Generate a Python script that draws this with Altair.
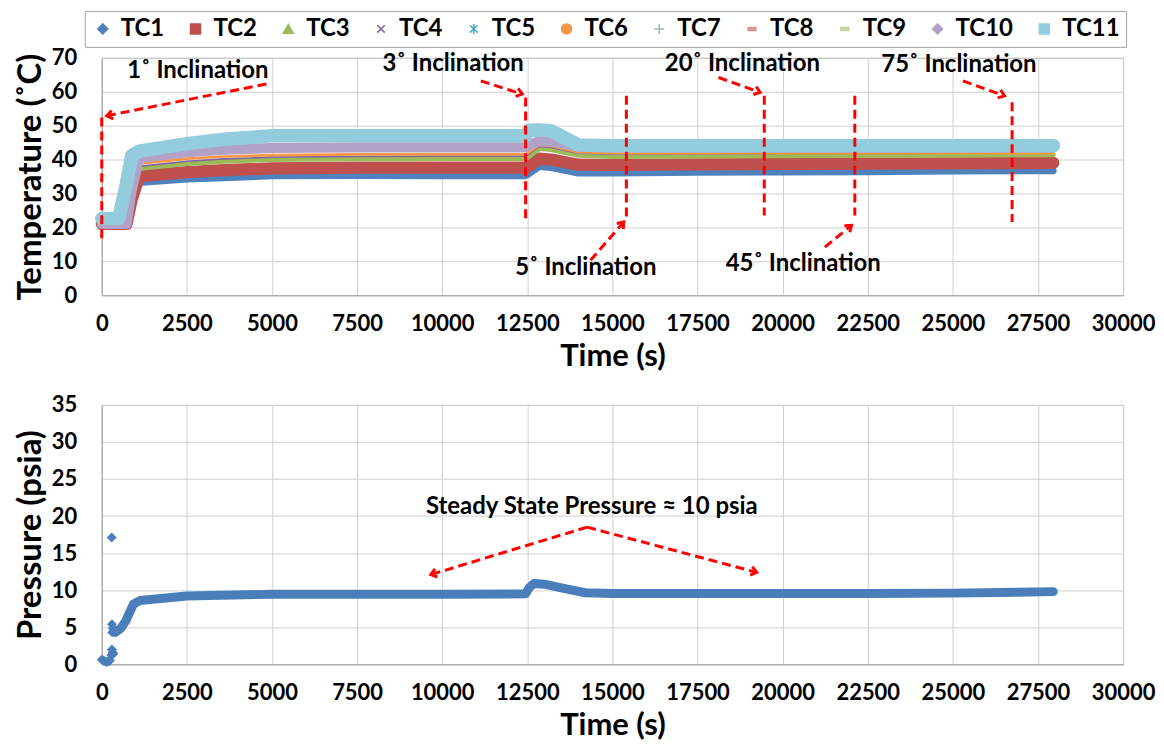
import math
import altair as alt
import pandas as pd

FONT = "Lato"

# ---------------- data: temperatures (deg C) vs time (s) ----------------
T = [0, 500, 730, 880, 1100, 2500, 3600, 5000, 7500, 10000, 12450, 12550,
     12850, 13200, 14000, 15000, 17500, 20000, 22500, 25000, 27950]
TC1 = [21.0, 21.0, 21.0, 27.0, 33.2, 34.2, 34.6, 35.2, 35.3, 35.2, 35.2, 35.8,
       37.9, 37.6, 36.0, 36.0, 36.2, 36.3, 36.4, 36.6, 36.7]
TC2 = [21.0, 21.0, 21.0, 28.3, 35.1, 36.3, 36.9, 37.4, 37.6, 37.6, 37.6, 38.2,
       40.3, 40.0, 38.5, 38.4, 38.6, 38.7, 38.8, 38.9, 39.0]
TC3 = [21.0, 21.0, 21.0, 29.5, 37.3, 38.8, 39.5, 40.0, 40.2, 40.3, 40.3, 40.9,
       43.2, 42.9, 41.2, 40.9, 41.0, 41.1, 41.2, 41.3, 41.4]
TC4 = [21.0, 21.0, 21.0, 30.0, 38.0, 39.5, 40.2, 40.7, 40.9, 41.0, 41.0, 41.6,
       43.9, 43.6, 41.9, 41.6, 41.7, 41.8, 41.8, 41.9, 42.0]
TC5 = [21.0, 21.0, 21.0, 30.8, 40.2, 41.9, 42.6, 43.1, 43.3, 43.3, 43.3, 43.9,
       45.2, 45.0, 43.5, 43.3, 43.3, 43.3, 43.3, 43.3, 43.3]
TC6 = [21.0, 21.0, 21.0, 30.5, 38.8, 40.3, 40.9, 41.3, 41.5, 41.5, 41.5, 42.1,
       44.3, 44.0, 42.2, 41.9, 41.9, 41.9, 41.9, 41.9, 41.9]
TC7 = [21.0, 21.0, 21.0, 31.2, 40.8, 42.5, 43.2, 43.7, 43.9, 43.9, 43.9, 44.5,
       45.8, 45.6, 44.1, 43.9, 43.9, 43.9, 43.9, 43.9, 43.9]
TC8 = [21.0, 21.0, 21.0, 31.0, 40.4, 42.1, 42.8, 43.3, 43.5, 43.5, 43.5, 44.1,
       45.4, 45.2, 43.7, 43.5, 43.5, 43.5, 43.5, 43.5, 43.5]
TC9 = [21.0, 21.0, 21.0, 31.1, 40.6, 42.3, 43.0, 43.5, 43.7, 43.7, 43.7, 44.3,
       45.6, 45.4, 43.9, 43.7, 43.7, 43.7, 43.7, 43.7, 43.7]
TC10 = [21.0, 21.0, 21.0, 31.0, 40.5, 42.2, 42.9, 43.4, 43.6, 43.6, 43.6, 44.2,
        45.5, 45.3, 43.8, 43.6, 43.6, 43.6, 43.6, 43.6, 43.6]
TC11 = [22.6, 22.6, 33.1, 41.2, 42.5, 44.7, 46.0, 47.0, 47.0, 47.0, 47.0, 48.6,
        48.7, 48.5, 44.3, 44.1, 44.1, 44.1, 44.1, 44.1, 44.1]

SERIES = ["TC1", "TC2", "TC3", "TC4", "TC5", "TC6", "TC7", "TC8", "TC9", "TC10", "TC11"]
VALUES = [TC1, TC2, TC3, TC4, TC5, TC6, TC7, TC8, TC9, TC10, TC11]

# ---------------- data: pressure (psia) vs time (s) ----------------
P_T = [400, 550, 700, 930, 1120, 2500, 5000, 7500, 10000, 12450, 12550, 12700,
       13000, 13500, 14200, 15000, 17500, 20000, 22500, 25000, 27950]
P_V = [4.3, 4.8, 5.8, 8.1, 8.6, 9.2, 9.45, 9.45, 9.45, 9.5, 10.3, 10.9,
       10.8, 10.3, 9.65, 9.55, 9.55, 9.55, 9.55, 9.6, 9.8]
PS_T = [0, 50, 100, 150, 200, 240, 280, 300, 320, 340, 292, 300, 330, 310, 350]
PS_V = [0.6, 0.5, 0.4, 0.3, 0.4, 0.5, 1.2, 2.0, 1.6, 1.4, 17.1, 5.4, 4.9, 4.3, 4.6]

# ---------------- annotations ----------------
VL_T = [0, 12450, 15410, 19460, 22120, 26740]
VL_TOP = [52.4, 58.3, 58.8, 58.8, 58.8, 56.9]
VL_BOT = [16.2, 22.5, 23.0, 23.5, 23.5, 21.6]

AR_T0 = [4834, 11134, 14357, 18116, 21242, 25294]
AR_V0 = [62.3, 63.2, 10.3, 64.2, 14.2, 63.2]
AR_T1 = [150, 12353, 15333, 19338, 22022, 26516]
AR_V1 = [52.9, 59.3, 21.6, 59.8, 20.6, 58.8]

LB_TEXT = ["1˚ Inclination", "3˚ Inclination", "5˚ Inclination",
           "20˚ Inclination", "45˚ Inclination", "75˚ Inclination"]
LB_T = [2822, 10322, 14219, 18818, 20605, 25178]
LB_V = [66.2, 68.2, 7.9, 68.2, 9.1, 67.9]

SS_TEXT = ["Steady State Pressure ≈ 10 psia"]
SS_T = [14395]
SS_V = [21.2]
SA_T0 = [14257, 14257]
SA_V0 = [18.5, 18.5]
SA_T1 = [9666, 19238]
SA_V1 = [12.1, 12.4]

# ---------------- styles ----------------
COLORS = ["#4F81BD", "#C0504D", "#9BBB59", "#8064A2", "#4BACC6", "#F79646",
          "#A5AEC0", "#D99694", "#C3D69B", "#B3A2C7", "#93CDDD"]
BAND_UNITS = [2.0, 3.6, 1.4, 0.5, 1.5, 0.8, 1.5, 1.5, 1.5, 3.0, 4.0]
SHAPES = ["diamond", "square", "triangle-up",
          "M-0.75,-0.75L0.75,0.75M-0.75,0.75L0.75,-0.75",
          "M-0.75,-0.75L0.75,0.75M-0.75,0.75L0.75,-0.75M0,-1L0,1",
          "circle",
          "M-1,0L1,0M0,-1L0,1",
          "M-0.8,-0.3L0.8,-0.3L0.8,0.3L-0.8,0.3Z",
          "M-0.8,-0.3L0.8,-0.3L0.8,0.3L-0.8,0.3Z",
          "diamond", "square"]
RED = "#FF0000"
BLUE = "#4A7EBB"
W = 1024
H1 = 238
H2 = 260
XMAX = 30000
XTICKS = list(range(0, 30001, 2500))

xscale = alt.Scale(domain=[0, XMAX], nice=False)
xaxis_top = alt.Axis(values=XTICKS, title="Time (s)", format="d", labelPadding=18, titlePadding=7)
xaxis_bot = alt.Axis(values=XTICKS, title="Time (s)", format="d", labelPadding=18, titlePadding=7)


def angles(t0, v0, t1, v1, ymax, h):
    out = []
    for a, b, c, d in zip(t0, v0, t1, v1):
        dx = (c - a) * W / XMAX
        dy = -(d - b) * h / ymax
        out.append(math.degrees(math.atan2(dy, dx)) % 360)
    return out


# ---------------- top chart ----------------
t_scale = alt.Scale(domain=[0, 70], nice=False)
t_axis = alt.Axis(values=list(range(0, 71, 10)), title="Temperature (˚C)", format="d",
                  titleFontSize=33)


def tx(field):
    return alt.X(field, scale=xscale, axis=xaxis_top)


def ty(field):
    return alt.Y(field, scale=t_scale, axis=t_axis)


top_layers = []
for i, (name, vals) in enumerate(zip(SERIES, VALUES)):
    df = pd.DataFrame({"time": T, "temp": vals})
    top_layers.append(
        alt.Chart(df).mark_line(color=COLORS[i], strokeWidth=BAND_UNITS[i] * H1 / 70,
                                strokeCap="round", strokeJoin="round").encode(
            x=tx("time:Q"), y=ty("temp:Q"),
        )
    )

leg_df = pd.DataFrame({"series": SERIES, "time": [None] * 11, "temp": [None] * 11})
leg = alt.Legend(title=None, orient="none", legendX=-17, legendY=-47, direction="horizontal",
                 columns=11)
legend_layer = alt.Chart(leg_df).mark_point(filled=True, size=100, strokeWidth=1.5, opacity=1).encode(
    x=tx("time:Q"), y=ty("temp:Q"),
    fill=alt.Fill("series:N", scale=alt.Scale(domain=SERIES, range=COLORS), legend=leg),
    stroke=alt.Stroke("series:N", scale=alt.Scale(domain=SERIES, range=COLORS), legend=leg),
    shape=alt.Shape("series:N", scale=alt.Scale(domain=SERIES, range=SHAPES), legend=leg),
)

vl_df = pd.DataFrame({"t": VL_T, "top": VL_TOP, "bot": VL_BOT})
vlines = alt.Chart(vl_df).mark_rule(color=RED, strokeWidth=3, strokeDash=[9, 5]).encode(
    x=tx("t:Q"), y=ty("top:Q"), y2="bot:Q",
)
ar_df = pd.DataFrame({"t0": AR_T0, "v0": AR_V0, "t1": AR_T1, "v1": AR_V1,
                      "ang": angles(AR_T0, AR_V0, AR_T1, AR_V1, 70, H1)})
arrows = alt.Chart(ar_df).mark_rule(color=RED, strokeWidth=3, strokeDash=[9, 5]).encode(
    x=tx("t0:Q"), y=ty("v0:Q"), x2="t1:Q", y2="v1:Q",
)
heads = alt.Chart(ar_df).mark_point(shape="M-1,-0.75L0,0L-1,0.75", filled=False, color=RED,
                                    strokeWidth=3, size=130, opacity=1).encode(
    x=tx("t1:Q"), y=ty("v1:Q"),
    angle=alt.Angle("ang:Q", scale=None),
)
lb_df = pd.DataFrame({"t": LB_T, "v": LB_V, "label": LB_TEXT})
labels = alt.Chart(lb_df).mark_text(font=FONT, fontSize=24, fontWeight="bold", color="black").encode(
    x=tx("t:Q"), y=ty("v:Q"), text="label:N",
)

top = alt.layer(*top_layers, legend_layer, vlines, arrows, heads, labels).properties(width=W, height=H1)

# ---------------- bottom chart ----------------
p_scale = alt.Scale(domain=[0, 35], nice=False)
p_axis = alt.Axis(values=list(range(0, 36, 5)), title="Pressure (psia)", format="d",
                  titleFontSize=33)


def px(field):
    return alt.X(field, scale=xscale, axis=xaxis_bot)


def py(field):
    return alt.Y(field, scale=p_scale, axis=p_axis)


p_df = pd.DataFrame({"time": P_T, "p": P_V})
p_line = alt.Chart(p_df).mark_line(color=BLUE, strokeWidth=9, strokeCap="round", strokeJoin="round").encode(
    x=px("time:Q"), y=py("p:Q"),
)
ps_df = pd.DataFrame({"time": PS_T, "p": PS_V})
p_pts = alt.Chart(ps_df).mark_point(shape="diamond", filled=True, color=BLUE, size=100, opacity=1).encode(
    x=px("time:Q"), y=py("p:Q"),
)
sa_df = pd.DataFrame({"t0": SA_T0, "v0": SA_V0, "t1": SA_T1, "v1": SA_V1,
                      "ang": angles(SA_T0, SA_V0, SA_T1, SA_V1, 35, H2)})
s_arrows = alt.Chart(sa_df).mark_rule(color=RED, strokeWidth=3, strokeDash=[9, 5]).encode(
    x=px("t0:Q"), y=py("v0:Q"), x2="t1:Q", y2="v1:Q",
)
s_heads = alt.Chart(sa_df).mark_point(shape="M-1,-0.75L0,0L-1,0.75", filled=False, color=RED,
                                      strokeWidth=3, size=130, opacity=1).encode(
    x=px("t1:Q"), y=py("v1:Q"),
    angle=alt.Angle("ang:Q", scale=None),
)
ss_df = pd.DataFrame({"t": SS_T, "v": SS_V, "label": SS_TEXT})
s_label = alt.Chart(ss_df).mark_text(font=FONT, fontSize=24, fontWeight="bold", color="black").encode(
    x=px("t:Q"), y=py("v:Q"), text="label:N",
)
bottom = alt.layer(p_line, p_pts, s_arrows, s_heads, s_label).properties(width=W, height=H2)

chart = alt.vconcat(top, bottom, spacing=21).properties(
    padding={"left": 5, "top": 1, "right": 0, "bottom": 0}
).configure_view(
    stroke="#A6A6A6", strokeWidth=1
).configure_axis(
    labelFont=FONT, labelFontSize=22, labelFontWeight="bold", labelColor="black",
    titleFont=FONT, titleFontSize=31, titleFontWeight="bold", titleColor="black",
    gridColor="#D0D0D0", domainColor="#A6A6A6", ticks=False,
    labelFlush=False, labelOverlap=False,
).configure_axisY(
    labelPadding=25, titlePadding=4,
).configure_legend(
    labelFont=FONT, labelFontSize=24, labelFontWeight="bold", labelColor="black",
    strokeColor="#A6A6A6", padding=6, columnPadding=19, labelOffset=6,
    symbolSize=100, symbolStrokeWidth=1.5,
)

chart.save("out.html", embed_options={"renderer": "svg", "actions": False})
